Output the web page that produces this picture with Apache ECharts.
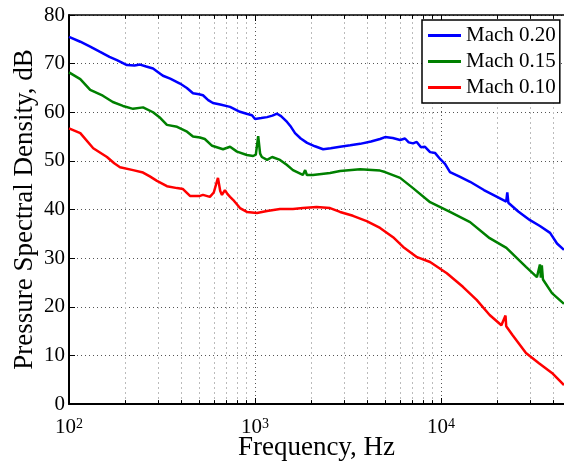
<!DOCTYPE html>
<html><head><meta charset="utf-8">
<script src="https://cdn.jsdelivr.net/npm/echarts@6/dist/echarts.min.js"></script>
<style>html,body{margin:0;padding:0;background:#fff}#c{width:564px;height:464px}</style>
</head><body><div id="c"></div>
<script>
const seriesNames = ['Mach 0.20', 'Mach 0.15', 'Mach 0.10'];

const freqM020 = [100,115,130,147,165,181,205,225,241,260,283,300,320,350,395,430,464,500,525,560,594,650,734,830,900,963,1000,1080,1161,1240,1313,1380,1486,1560,1641,1760,1905,2100,2323,2550,2865,3250,3669,4200,4699,5000,5500,6026,6400,6700,7066,7400,7800,8200,8730,9300,9880,10500,11170,12500,14320,17000,20000,22400,22700,23000,26000,30080,34000,38550,42000,45800];
const dbM020 = [75.5,74.5,73.5,72.4,71.4,70.7,69.7,69.6,69.8,69.4,69.0,68.3,67.5,66.9,65.9,65.0,63.9,63.7,63.5,62.5,61.9,61.6,61.1,60.1,59.7,59.4,58.6,58.8,59.0,59.3,59.7,59.2,58.0,57.0,55.7,54.6,53.7,53.0,52.4,52.6,52.9,53.2,53.5,54.0,54.5,54.9,54.7,54.3,54.6,53.8,53.6,53.9,52.8,52.9,51.8,51.6,50.4,49.4,47.7,46.8,45.7,44.0,42.6,41.6,43.5,41.4,39.6,37.8,36.6,35.2,33.0,31.7];

const freqM015 = [100,115,130,152,172,195,221,250,283,310,336,381,431,464,506,537,588,673,734,800,904,977,1010,1040,1065,1088,1161,1236,1362,1480,1599,1807,1860,1900,2046,2531,2865,3669,4699,5000,6026,7066,8730,11170,14320,18250,22450,28600,32760,33500,34000,34400,34800,35300,39460,45800];
const dbM015 = [68.2,66.8,64.6,63.4,62.1,61.3,60.7,61.0,60.0,58.8,57.4,57.0,56.0,55.0,54.8,54.5,53.1,52.4,52.9,51.9,51.2,51.0,51.3,55.1,51.5,50.8,50.2,50.8,50.2,49.2,48.1,47.1,48.1,47.1,47.1,47.5,47.9,48.3,48.0,47.7,46.5,44.4,41.5,39.5,37.4,34.1,32.1,28.2,26.1,26.3,28.7,26.0,28.5,25.6,22.8,20.6];

const freqM010 = [100,115,135,160,175,188,221,250,272,297,336,381,410,447,506,525,572,600,632,650,664,689,710,734,762,830,904,1024,1161,1362,1599,1807,2141,2531,2865,3360,3984,4699,5521,6256,7428,8730,10740,13100,15530,18250,21100,22200,22400,24200,28600,33600,39460,45800];
const dbM010 = [56.7,55.7,52.6,50.8,49.5,48.7,48.1,47.6,46.8,45.9,44.8,44.4,44.2,42.8,42.8,43.0,42.6,43.5,46.5,43.8,43.0,44.0,43.2,42.6,42.0,40.3,39.5,39.3,39.7,40.1,40.1,40.3,40.5,40.3,39.5,38.7,37.6,36.2,34.3,32.3,30.2,29.2,26.9,24.1,21.4,18.3,16.2,18.2,16.0,14.2,10.5,8.4,6.4,3.9];

const seriesColors = ['#0000ff', '#008000', '#ff0000'];
const xMin = 100, xMax = 45800;
const yMin = 0, yMax = 80, yStep = 10;
const minorFreqs = [200,300,400,500,600,700,800,900,2000,3000,4000,5000,6000,7000,8000,9000,20000,30000,40000];

const FONT = "'Liberation Serif','Times New Roman',serif";
const zip = (f, d) => f.map((v, i) => [v, d[i]]);

const minorGrid = minorFreqs.map(f => ({ xAxis: f }));
const minorTicks = [];
minorFreqs.forEach(f => {
  minorTicks.push([{ coord: [f, yMin] }, { coord: [f, yMin + 0.8] }]);
  minorTicks.push([{ coord: [f, yMax] }, { coord: [f, yMax - 0.8] }]);
});

const chart = echarts.init(document.getElementById('c'), null, { renderer: 'canvas' });
chart.setOption({
  animation: false,
  backgroundColor: '#fff',
  grid: { left: 69, right: 0, top: 15, bottom: 60, containLabel: false, outerBoundsMode: 'none' },
  legend: {
    data: seriesNames, orient: 'vertical', left: 422, top: 20, z: 10,
    padding: [5, 4, 5, 6], itemGap: 5, itemWidth: 33, itemHeight: 3, icon: 'rect',
    borderColor: '#000', borderWidth: 1.5, backgroundColor: '#fff', borderRadius: 0,
    textStyle: { fontFamily: FONT, fontSize: 21, color: '#000', lineHeight: 21 }
  },
  xAxis: [{
    type: 'log', logBase: 10, min: xMin, max: xMax, position: 'bottom',
    axisLine: { show: true, onZero: false, lineStyle: { color: '#000', width: 2 } },
    axisTick: { show: true, inside: true, length: 6, lineStyle: { color: '#000', width: 1 } },
    axisLabel: {
      margin: 13, color: '#000', showMaxLabel: false,
      formatter: v => {
        const e = Math.round(Math.log10(v));
        if (Math.abs(Math.pow(10, e) - v) > 1e-6 * v) return '';
        return '{b|10}{s|' + e + '}';
      },
      rich: {
        b: { fontFamily: FONT, fontSize: 21, color: '#000' },
        s: { fontFamily: FONT, fontSize: 14, color: '#000', verticalAlign: 'top' }
      }
    },
    splitLine: { show: true, lineStyle: { type: [1, 3], color: '#555', width: 1 } },
    name: 'Frequency, Hz', nameLocation: 'middle', nameGap: 30, nameMoveOverlap: false,
    nameTextStyle: { fontFamily: FONT, fontSize: 27, color: '#000', verticalAlign: 'top' }
  }, {
    type: 'log', logBase: 10, min: xMin, max: xMax, position: 'top',
    axisLine: { show: true, onZero: false, lineStyle: { color: '#000', width: 1.5 } },
    axisTick: { show: true, inside: true, length: 6, lineStyle: { color: '#000', width: 1 } },
    axisLabel: { show: false }, splitLine: { show: false }
  }],
  yAxis: {
    type: 'value', min: yMin, max: yMax, interval: yStep,
    axisLine: { show: true, onZero: false, lineStyle: { color: '#000', width: 2 } },
    axisTick: { show: true, inside: true, length: 6, lineStyle: { color: '#000', width: 1 } },
    axisLabel: { margin: 4, color: '#000', fontFamily: FONT, fontSize: 21 },
    splitLine: { show: true, lineStyle: { type: [1, 3], color: '#555', width: 1 } },
    name: 'Pressure Spectral Density, dB', nameLocation: 'middle', nameGap: 31, nameMoveOverlap: false,
    nameTextStyle: { fontFamily: FONT, fontSize: 27, color: '#000' }
  },
  series: [
    {
      name: '_grid', type: 'line', data: [], z: 1, silent: true,
      markLine: {
        silent: true, z: 1, symbol: ['none', 'none'], label: { show: false }, animation: false,
        lineStyle: { type: [2, 3], color: '#bbb', width: 1 },
        data: minorGrid
      }
    },
    {
      name: '_ticks', type: 'line', data: [], z: 3, silent: true,
      markLine: {
        silent: true, z: 3, symbol: ['none', 'none'], label: { show: false }, animation: false,
        lineStyle: { type: 'solid', color: '#000', width: 1 },
        data: minorTicks
      }
    },
    { name: seriesNames[0], type: 'line', data: zip(freqM020, dbM020), showSymbol: false, symbol: 'none', color: seriesColors[0], lineStyle: { width: 2.5, color: seriesColors[0] }, z: 2 },
    { name: seriesNames[1], type: 'line', data: zip(freqM015, dbM015), showSymbol: false, symbol: 'none', color: seriesColors[1], lineStyle: { width: 2.5, color: seriesColors[1] }, z: 2 },
    { name: seriesNames[2], type: 'line', data: zip(freqM010, dbM010), showSymbol: false, symbol: 'none', color: seriesColors[2], lineStyle: { width: 2.5, color: seriesColors[2] }, z: 2 }
  ]
});
</script></body></html>
